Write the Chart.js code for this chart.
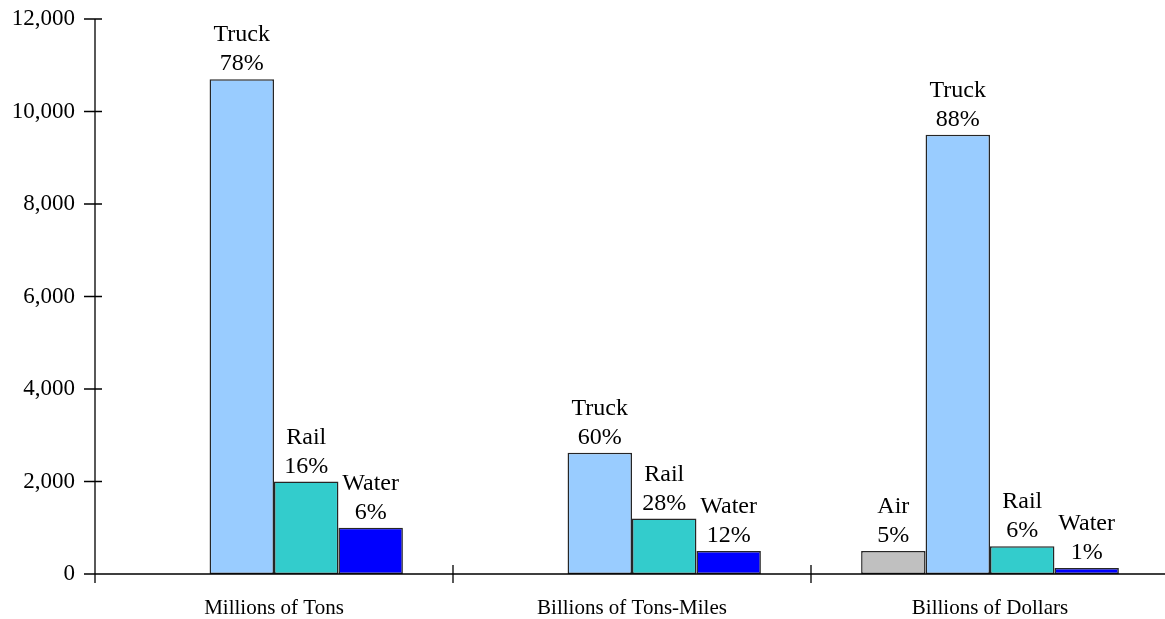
<!DOCTYPE html>
<html>
<head>
<meta charset="utf-8">
<script src="https://cdn.jsdelivr.net/npm/chart.js@4/dist/chart.umd.min.js"></script>
<style>
  html, body { margin: 0; padding: 0; background: #fff; overflow: hidden; }
  #wrap { width: 1165px; height: 619px; overflow: hidden; }
</style>
</head>
<body>
<div id="wrap"><canvas id="freight-chart" width="1169" height="619"></canvas></div>
<script>
// categories and series
var categories = ['Millions of Tons', 'Billions of Tons-Miles', 'Billions of Dollars'];
var modes = ['Air', 'Truck', 'Rail', 'Water'];
var airData = [null, null, 500];
var truckData = [10700, 2620, 9500];
var railData = [2000, 1200, 600];
var waterData = [1000, 500, 130];
// percent shares printed above the bars
var airShare = [null, null, '5%'];
var truckShare = ['78%', '60%', '88%'];
var railShare = ['16%', '28%', '6%'];
var waterShare = ['6%', '12%', '1%'];
var yTicks = [0, 2000, 4000, 6000, 8000, 10000, 12000];

var FONT = '"Liberation Serif", "Times New Roman", serif';

document.addEventListener('DOMContentLoaded', function () {
    var shares = [airShare, truckShare, railShare, waterShare];

    // labels above each bar: mode name + share
    var barLabels = {
        id: 'barLabels',
        afterDatasetsDraw: function (chart) {
            var ctx = chart.ctx;
            ctx.save();
            ctx.font = '24px ' + FONT;
            ctx.fillStyle = '#000';
            ctx.textAlign = 'center';
            ctx.textBaseline = 'alphabetic';
            chart.data.datasets.forEach(function (ds, i) {
                var meta = chart.getDatasetMeta(i);
                meta.data.forEach(function (bar, j) {
                    if (ds.data[j] == null) return;
                    var top = bar.y;
                    ctx.fillText(shares[i][j], bar.x, top - 9);
                    ctx.fillText(modes[i], bar.x, top - 38);
                });
            });
            ctx.restore();
        }
    };

    // axes lines with crossing tick marks
    var axesLines = {
        id: 'axesLines',
        afterDraw: function (chart) {
            var ctx = chart.ctx;
            var xs = chart.scales.x, ys = chart.scales.y;
            var left = chart.chartArea.left, bottom = ys.getPixelForValue(0);
            var top = ys.getPixelForValue(12000);
            ctx.save();
            ctx.strokeStyle = '#000';
            ctx.lineWidth = 1.3;
            ctx.beginPath();
            ctx.moveTo(left, top);
            ctx.lineTo(left, bottom + 9);
            ctx.moveTo(left - 11, bottom);
            ctx.lineTo(chart.width, bottom);
            yTicks.forEach(function (v) {
                var y = ys.getPixelForValue(v);
                ctx.moveTo(left - 11, y);
                ctx.lineTo(left + 7, y);
            });
            for (var k = 1; k < categories.length; k++) {
                var x = (xs.getPixelForValue(k - 1) + xs.getPixelForValue(k)) / 2;
                ctx.moveTo(x, bottom - 9);
                ctx.lineTo(x, bottom + 9);
            }
            ctx.stroke();
            ctx.restore();
        }
    };

    var ctx = document.getElementById('freight-chart').getContext('2d');
    var myChart = new Chart(ctx, {
        type: 'bar',
        data: {
            labels: categories,
            datasets: [{
                label: 'Air',
                backgroundColor: '#c0c0c0',
                data: airData
            }, {
                label: 'Truck',
                backgroundColor: '#99ccff',
                data: truckData
            }, {
                label: 'Rail',
                backgroundColor: '#33cccc',
                data: railData
            }, {
                label: 'Water',
                backgroundColor: '#0000ff',
                data: waterData
            }]
        },
        options: {
            responsive: false,
            animation: false,
            layout: { padding: { top: 19, right: 0, left: 0, bottom: 0 } },
            datasets: {
                bar: {
                    borderColor: '#262626',
                    borderWidth: 1.5,
                    borderSkipped: false,
                    barPercentage: 1.0,
                    categoryPercentage: 0.72,
                    skipNull: false
                }
            },
            scales: {
                x: {
                    grid: { display: false },
                    border: { display: false },
                    ticks: {
                        color: '#000',
                        padding: 14,
                        font: { family: FONT, size: 21 },
                        maxRotation: 0
                    },
                    afterFit: function (scale) {
                        scale.height = 45;
                        scale.paddingLeft = 0;
                        scale.paddingRight = 0;
                    }
                },
                y: {
                    min: 0,
                    max: 12000,
                    grid: { display: false },
                    border: { display: false },
                    ticks: {
                        stepSize: 2000,
                        color: '#000',
                        padding: 12,
                        font: { family: FONT, size: 23 },
                        callback: function (v) { return v.toLocaleString('en-US'); }
                    },
                    afterFit: function (scale) {
                        scale.width = 95;
                        scale.paddingTop = 0;
                        scale.paddingBottom = 0;
                    }
                }
            },
            plugins: {
                legend: { display: false },
                tooltip: { enabled: false }
            }
        },
        plugins: [barLabels, axesLines]
    });
});
</script>
</body>
</html>
